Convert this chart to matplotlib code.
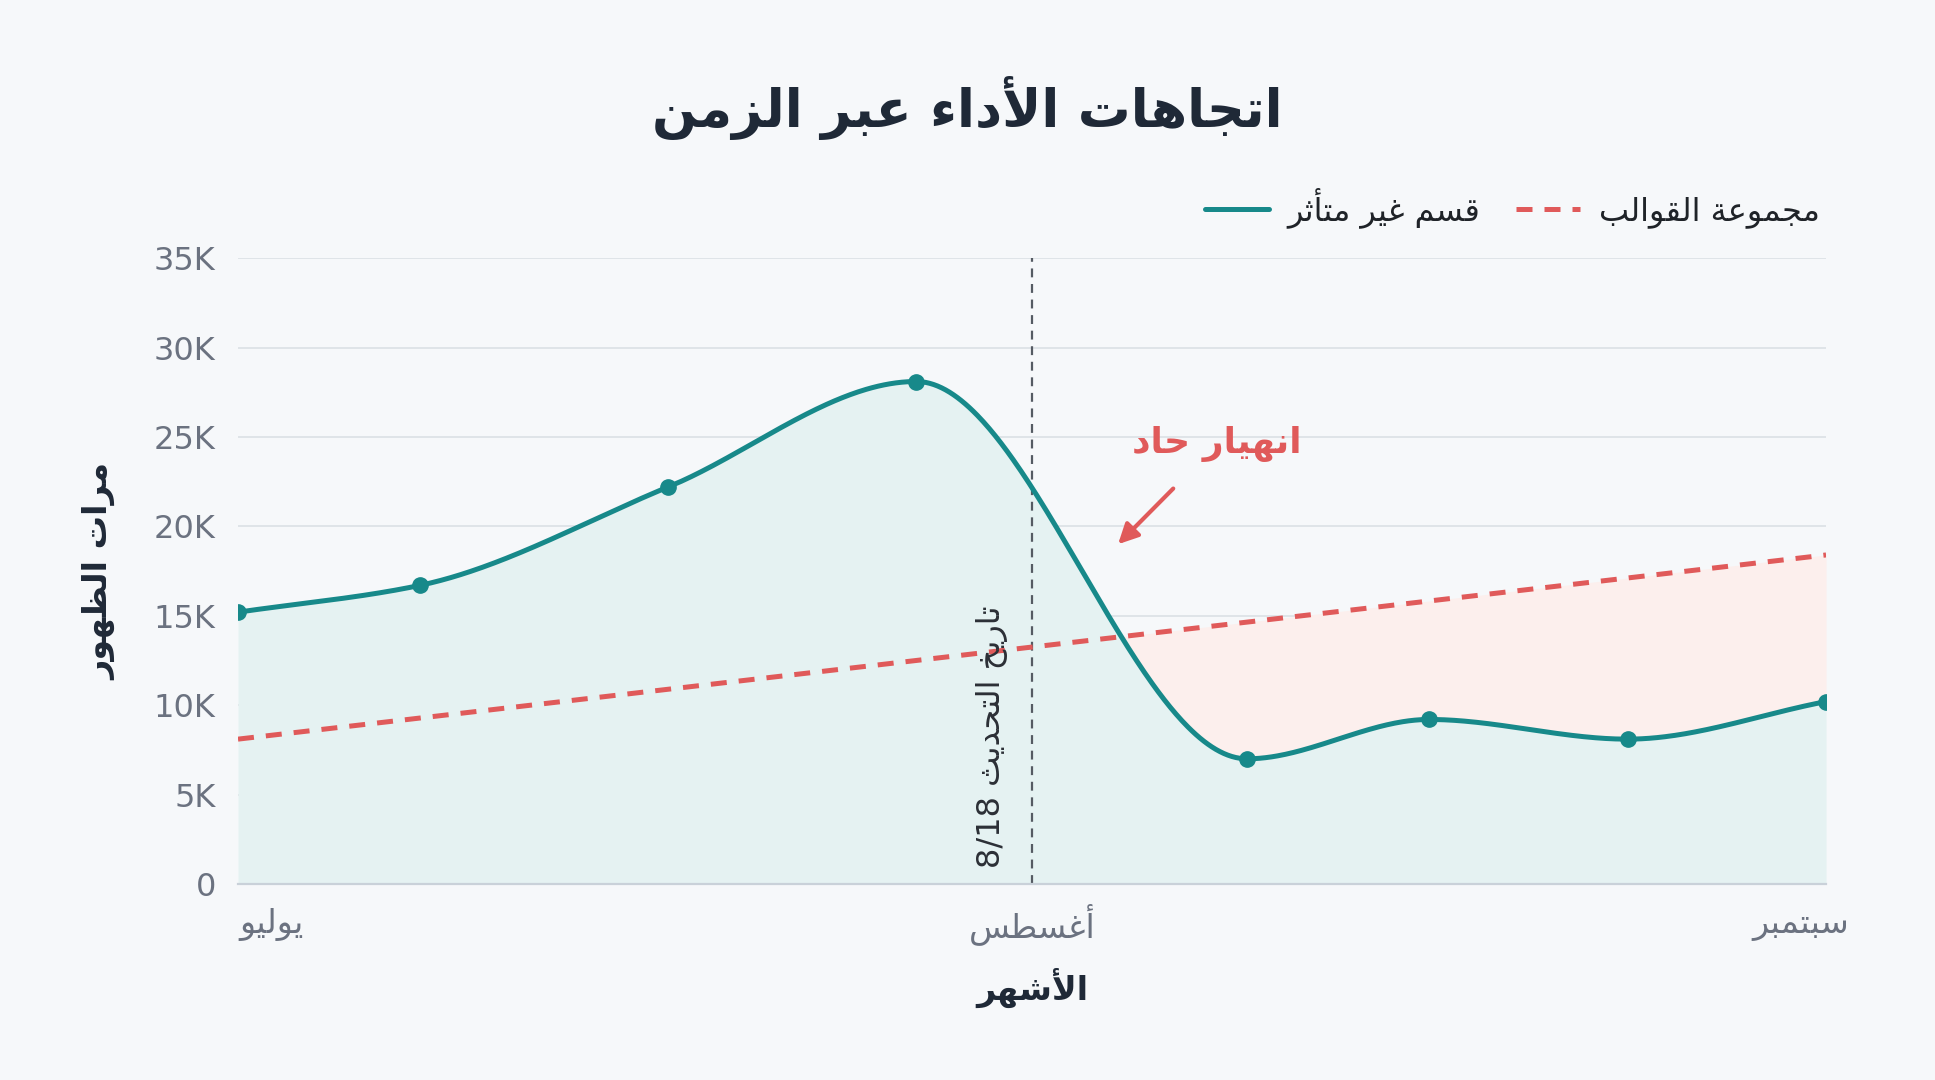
import re
import numpy as np
import matplotlib
matplotlib.use('Agg')
import matplotlib.pyplot as plt
from matplotlib.ticker import FuncFormatter


# data (x = days from July 1)
days = [0, 11, 26, 41, 61, 72, 84, 96]
unaffected = [15200, 16700, 22200, 28100, 7000, 9200, 8100, 10200]
template_days = [0, 96]
template_group = [8100, 18400]
update_day = 48

month_labels = ['يوليو', 'أغسطس', 'سبتمبر']
month_ticks = [2, 48, 94.5]

title = 'اتجاهات الأداء عبر الزمن'
label_unaffected = 'قسم غير متأثر'
label_template = 'مجموعة القوالب'
x_title = 'الأشهر'
y_title = 'مرات الظهور'
update_text = 'تاريخ التحديث 8/18'
crash_text = 'انهيار حاد'

teal = '#17898a'
red = '#e05a5a'
bg = '#f6f8fa'
dark = '#1f2937'
gray = '#6b7280'


# --- tiny arabic shaper (presentation forms + reversed for display) ---
_forms = [
    ('ء', 0xFE80, 1), ('آ', 0xFE81, 2), ('أ', 0xFE83, 2), ('ؤ', 0xFE85, 2),
    ('إ', 0xFE87, 2), ('ئ', 0xFE89, 4), ('ا', 0xFE8D, 2), ('ب', 0xFE8F, 4),
    ('ة', 0xFE93, 2), ('ت', 0xFE95, 4), ('ث', 0xFE99, 4), ('ج', 0xFE9D, 4),
    ('ح', 0xFEA1, 4), ('خ', 0xFEA5, 4), ('د', 0xFEA9, 2), ('ذ', 0xFEAB, 2),
    ('ر', 0xFEAD, 2), ('ز', 0xFEAF, 2), ('س', 0xFEB1, 4), ('ش', 0xFEB5, 4),
    ('ص', 0xFEB9, 4), ('ض', 0xFEBD, 4), ('ط', 0xFEC1, 4), ('ظ', 0xFEC5, 4),
    ('ع', 0xFEC9, 4), ('غ', 0xFECD, 4), ('ف', 0xFED1, 4), ('ق', 0xFED5, 4),
    ('ك', 0xFED9, 4), ('ل', 0xFEDD, 4), ('م', 0xFEE1, 4), ('ن', 0xFEE5, 4),
    ('ه', 0xFEE9, 4), ('و', 0xFEED, 2), ('ى', 0xFEEF, 2), ('ي', 0xFEF1, 4),
]
FORMS = {c: (b, n) for c, b, n in _forms}
LAM_ALEF = {'آ': 0xFEF5, 'أ': 0xFEF7, 'إ': 0xFEF9, 'ا': 0xFEFB}


def ar(text):
    units = []
    i = 0
    while i < len(text):
        c = text[i]
        if c == 'ل' and i + 1 < len(text) and text[i + 1] in LAM_ALEF:
            units.append(('LA', text[i + 1]))
            i += 2
        else:
            units.append(('C', c))
            i += 1

    def joins_after(u):
        return u[0] == 'C' and u[1] in FORMS and FORMS[u[1]][1] == 4

    def is_ar(u):
        return u[0] == 'LA' or u[1] in FORMS

    out = []
    for k, u in enumerate(units):
        prev = k > 0 and joins_after(units[k - 1])
        if u[0] == 'LA':
            out.append(chr(LAM_ALEF[u[1]] + (1 if prev else 0)))
            continue
        c = u[1]
        if c not in FORMS:
            out.append(c)
            continue
        base, n = FORMS[c]
        nxt = n == 4 and k + 1 < len(units) and is_ar(units[k + 1])
        if n == 1:
            idx = 0
        elif n == 2:
            idx = 1 if prev else 0
        else:
            idx = 3 if (prev and nxt) else 1 if prev else 2 if nxt else 0
        out.append(chr(base + idx))
    vis = ''.join(out)[::-1]
    return re.sub(r'[0-9A-Za-z/.]+', lambda m: m.group(0)[::-1], vis)


def monotone(x, y, xs):
    # monotone cubic (Fritsch-Carlson), same idea as d3 curveMonotoneX
    x = np.asarray(x, float)
    y = np.asarray(y, float)
    h = np.diff(x)
    d = np.diff(y) / h
    m = np.zeros_like(y)
    m[0] = d[0]
    m[-1] = d[-1]
    for k in range(1, len(y) - 1):
        if d[k - 1] * d[k] <= 0:
            m[k] = 0
        else:
            w1 = 2 * h[k] + h[k - 1]
            w2 = h[k] + 2 * h[k - 1]
            m[k] = (w1 + w2) / (w1 / d[k - 1] + w2 / d[k])
    ys = np.empty_like(xs)
    for j, xv in enumerate(xs):
        k = min(np.searchsorted(x, xv, side='right') - 1, len(x) - 2)
        t = (xv - x[k]) / h[k]
        h00 = 2 * t**3 - 3 * t**2 + 1
        h10 = t**3 - 2 * t**2 + t
        h01 = -2 * t**3 + 3 * t**2
        h11 = t**3 - t**2
        ys[j] = h00 * y[k] + h10 * h[k] * m[k] + h01 * y[k + 1] + h11 * h[k] * m[k + 1]
    return ys


plt.rcParams['font.family'] = ['DejaVu Sans']

fig = plt.figure(figsize=(19.35, 10.8), dpi=100, facecolor=bg)
ax = fig.add_axes([0.123, 0.1815, 0.8207, 0.5795])
ax.set_facecolor(bg)

xs = np.linspace(days[0], days[-1], 800)
ys = monotone(days, unaffected, xs)
rs = np.interp(xs, template_days, template_group)

ax.fill_between(xs, 0, ys, color='#e5f2f2', lw=0, zorder=1)
ax.fill_between(xs, ys, rs, where=rs > ys, interpolate=True, color='#fcefed', lw=0, zorder=1)

ax.plot(xs, ys, color=teal, lw=3.6, solid_capstyle='round', zorder=4, label=ar(label_unaffected))
ax.plot(days, unaffected, 'o', color=teal, ms=11, zorder=5)
ax.plot(template_days, template_group, color=red, lw=3.6, ls=(0, (3.2, 2.4)), zorder=3,
        label=ar(label_template))

ax.axvline(update_day, color='#555b63', lw=1.6, ls=(0, (4, 3)), zorder=2)
ax.text(update_day - 2.4, 900, ar(update_text), rotation=90, ha='center', va='bottom',
        fontsize=23, color='#2b2f36', zorder=6)

ax.annotate(ar(crash_text), xy=(53.2, 19000), xytext=(59.2, 24600),
            fontsize=26, fontweight='bold', color=red, ha='center', va='center',
            arrowprops=dict(arrowstyle='-|>', color=red, lw=3, mutation_scale=30,
                            shrinkA=24, shrinkB=0))

ax.set_xlim(days[0], days[-1])
ax.set_ylim(0, 35000)
ax.set_yticks(np.arange(0, 35001, 5000))
ax.yaxis.set_major_formatter(FuncFormatter(lambda v, p: '0' if v == 0 else f'{int(v / 1000)}K'))
ax.set_xticks(month_ticks)
ax.set_xticklabels([ar(m) for m in month_labels])
ax.tick_params(axis='both', length=0, labelcolor=gray)
ax.tick_params(axis='y', labelsize=23, pad=16)
ax.tick_params(axis='x', labelsize=24, pad=29)
for lbl in ax.get_xticklabels():
    lbl.set_va('center')
ax.grid(axis='y', color='#dde2e7', lw=1.3)
ax.set_axisbelow(True)
for s in ['top', 'right', 'left']:
    ax.spines[s].set_visible(False)
ax.spines['bottom'].set_color('#c9d1d9')
ax.spines['bottom'].set_linewidth(1.6)
ax.spines['bottom'].set_zorder(5)

ax.set_xlabel(ar(x_title), fontsize=24, fontweight='bold', color=dark, labelpad=16)
ax.set_ylabel(ar(y_title), fontsize=24, fontweight='bold', color=dark, labelpad=27)

fig.suptitle(ar(title), x=0.5, y=0.93, fontsize=38, fontweight='bold', color=dark)

ax.legend(loc='lower right', bbox_to_anchor=(1.0, 1.038), ncol=2, frameon=False,
          fontsize=23, handlelength=2.0, columnspacing=1.1, handletextpad=0.6,
          borderaxespad=0.0, borderpad=0.2, labelcolor='#1f2328')

fig.savefig('out.png', dpi=100, facecolor=bg)
